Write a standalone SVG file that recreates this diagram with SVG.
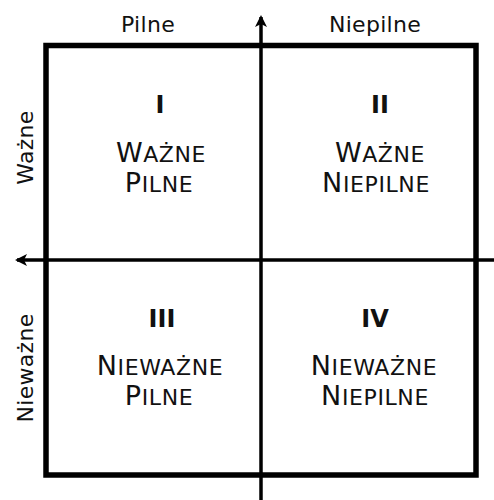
<svg xmlns="http://www.w3.org/2000/svg" width="494" height="500" viewBox="0 0 494 500">
<style>
text{font-family:"DejaVu Sans","Liberation Sans",sans-serif;fill:#111;text-anchor:middle}
.ax{font-size:22px;letter-spacing:0.3px}
.num{font-size:24px;font-weight:bold}
.q{letter-spacing:0.6px}
.big{font-size:27px}
.sm{font-size:22px}
.axis{stroke:#000;stroke-width:3.5;fill:none}
</style>
<defs>
<marker id="ah" viewBox="0 0 12 12" refX="10" refY="6" markerWidth="12" markerHeight="12" markerUnits="userSpaceOnUse" orient="auto">
<path d="M0,0 L12,6 L0,12 L3,6 Z" fill="#000"/>
</marker>
</defs>
<rect x="46" y="45.5" width="430" height="429.5" fill="none" stroke="#000" stroke-width="5.5"/>
<g id="connectors">
<line class="axis" x1="261" y1="500" x2="261" y2="17" marker-end="url(#ah)"/>
<line class="axis" x1="494" y1="260" x2="17" y2="260" marker-end="url(#ah)"/>
</g>
<g id="labels">
<text class="ax" x="148" y="32">Pilne</text>
<text class="ax" x="375" y="32">Niepilne</text>
<text class="ax" transform="translate(33,147.5) rotate(-90)">Ważne</text>
<text class="ax" transform="translate(33,368) rotate(-90)">Nieważne</text>
</g>
<g id="q1">
<text class="num" x="160" y="113">I</text>
<text class="q" x="161" y="161.5"><tspan class="big">W</tspan><tspan class="sm">AŻNE</tspan></text>
<text class="q" x="159" y="192"><tspan class="big">P</tspan><tspan class="sm">ILNE</tspan></text>
</g>
<g id="q2">
<text class="num" x="380" y="113">II</text>
<text class="q" x="380" y="161.5"><tspan class="big">W</tspan><tspan class="sm">AŻNE</tspan></text>
<text class="q" x="376" y="192"><tspan class="big">N</tspan><tspan class="sm">IEPILNE</tspan></text>
</g>
<g id="q3">
<text class="num" x="162" y="327">III</text>
<text class="q" x="160" y="374.5"><tspan class="big">N</tspan><tspan class="sm">IEWAŻNE</tspan></text>
<text class="q" x="159" y="405"><tspan class="big">P</tspan><tspan class="sm">ILNE</tspan></text>
</g>
<g id="q4">
<text class="num" x="375" y="327">IV</text>
<text class="q" x="374" y="374.5"><tspan class="big">N</tspan><tspan class="sm">IEWAŻNE</tspan></text>
<text class="q" x="375" y="405"><tspan class="big">N</tspan><tspan class="sm">IEPILNE</tspan></text>
</g>
</svg>
